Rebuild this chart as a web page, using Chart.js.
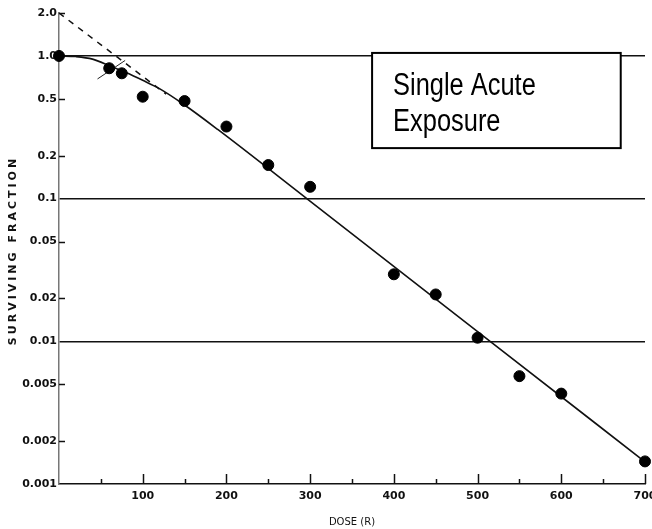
<!DOCTYPE html>
<html>
<head>
<meta charset="utf-8">
<script src="https://cdn.jsdelivr.net/npm/chart.js@4.4.0/dist/chart.umd.min.js"></script>
<style>
html,body{margin:0;padding:0;background:#fff;}
</style>
</head>
<body>
<canvas id="grafico" width="652" height="529"></canvas>
<script>
// punti misurati
var dosi = [0, 60, 75, 100, 150, 200, 250, 300, 400, 450, 500, 550, 600, 700];
var sopravvivenza = [1.0, 0.82, 0.756, 0.518, 0.483, 0.32, 0.172, 0.121, 0.0295, 0.0213, 0.0106, 0.0057, 0.0043, 0.00144];

// curva continua
var curvaDosi = [0, 20, 40, 61, 80, 100, 120, 150, 190, 296, 515, 700];
var curvaFrazione = [1.0, 0.99, 0.95, 0.85, 0.765, 0.675, 0.59, 0.453, 0.304, 0.1, 0.01, 0.00143];

// estrapolazione tratteggiata
var trattDosi = [0, 128];
var trattFrazione = [2.0, 0.54];

// piccolo segno vicino alla spalla
var segnoDosi = [46, 79];
var segnoFrazione = [0.69, 0.93];

var tickY = [2.0, 1.0, 0.5, 0.2, 0.1, 0.05, 0.02, 0.01, 0.005, 0.002, 0.001];
var etichetteY = ["2.0", "1.0", "0.5", "0.2", "0.1", "0.05", "0.02", "0.01", "0.005", "0.002", "0.001"];
var lineeOrizzontali = [1.0, 0.1, 0.01];
var tickX = [100, 200, 300, 400, 500, 600, 700];

// riquadro del testo (in unita' del grafico)
var riquadroX = [374, 671];
var riquadroY = [1.05, 0.226];
var testoRiquadro = ["Single Acute", "Exposure"];

function coppie(xs, ys)
{
  return xs.map(function(x, i) { return {x: x, y: ys[i]}; });
}

var decorazioni = {
  id: 'decorazioni',
  afterDraw: function(chart)
  {
    var ctx = chart.ctx, a = chart.chartArea;
    var sx = chart.scales.x, sy = chart.scales.y;
    ctx.save();
    ctx.strokeStyle = '#111';
    ctx.lineWidth = 1.5;
    // tacche asse y verso l'interno
    tickY.forEach(function(v) {
      if (lineeOrizzontali.indexOf(v) >= 0 || v === 0.001) return;
      var y = Math.round(sy.getPixelForValue(v)) + 0.5;
      ctx.beginPath();
      ctx.moveTo(a.left, y);
      ctx.lineTo(a.left + 6, y);
      ctx.stroke();
    });
    // tacche asse x verso l'alto
    for (var d = 50; d <= 700; d += 50)
    {
      var x = Math.round(sx.getPixelForValue(d)) + 0.5;
      var lung = (d % 100 === 0) ? 10 : 5;
      ctx.beginPath();
      ctx.moveTo(x, a.bottom);
      ctx.lineTo(x, a.bottom - lung);
      ctx.stroke();
    }
    // titolo asse y con spaziatura
    ctx.save();
    ctx.translate(13, (a.top + a.bottom) / 2 + 2);
    ctx.rotate(-Math.PI / 2);
    ctx.font = 'bold 11px "DejaVu Sans"';
    ctx.letterSpacing = '3px';
    ctx.fillStyle = '#111';
    ctx.textAlign = 'center';
    ctx.textBaseline = 'middle';
    ctx.fillText('SURVIVING FRACTION', 0, 0);
    ctx.restore();
    // riquadro
    var x0 = sx.getPixelForValue(riquadroX[0]), x1 = sx.getPixelForValue(riquadroX[1]);
    var y0 = sy.getPixelForValue(riquadroY[0]), y1 = sy.getPixelForValue(riquadroY[1]);
    ctx.fillStyle = '#fff';
    ctx.fillRect(x0, y0, x1 - x0, y1 - y0);
    ctx.lineWidth = 2;
    ctx.strokeStyle = '#000';
    ctx.strokeRect(x0, y0, x1 - x0, y1 - y0);
    ctx.fillStyle = '#000';
    ctx.font = '31px "Liberation Sans", Arial, sans-serif';
    ctx.textAlign = 'left';
    ctx.textBaseline = 'alphabetic';
    testoRiquadro.forEach(function(t, i) {
      ctx.save();
      ctx.translate(x0 + 21, y0 + 42.5 + i * 36);
      ctx.scale(0.82, 1);
      ctx.fillText(t, 0, 0);
      ctx.restore();
    });
    ctx.restore();
  }
};

new Chart(document.getElementById("grafico"),
{
  type: 'scatter',
  data:
  {
    datasets:
    [
      {
        data: coppie(dosi, sopravvivenza),
        backgroundColor: '#000',
        borderColor: '#000',
        pointRadius: 5.5,
        pointHoverRadius: 5.5,
        clip: false,
        order: 0
      },
      {
        type: 'line',
        data: coppie(curvaDosi, curvaFrazione),
        borderColor: '#111',
        borderWidth: 1.6,
        pointRadius: 0,
        cubicInterpolationMode: 'monotone',
        fill: false,
        clip: false,
        order: 1
      },
      {
        type: 'line',
        data: coppie(trattDosi, trattFrazione),
        borderColor: '#111',
        borderWidth: 1.5,
        borderDash: [6, 6],
        pointRadius: 0,
        fill: false,
        clip: false,
        order: 1
      },
      {
        type: 'line',
        data: coppie(segnoDosi, segnoFrazione),
        borderColor: '#222',
        borderWidth: 1,
        pointRadius: 0,
        fill: false,
        clip: false,
        order: 1
      }
    ]
  },
  options:
  {
    responsive: false,
    animation: false,
    devicePixelRatio: 1,
    layout: { padding: { top: 13, right: 7, bottom: 0, left: 0 } },
    plugins: { legend: { display: false }, tooltip: { enabled: false } },
    scales:
    {
      x:
      {
        type: 'linear',
        min: 0,
        max: 700,
        afterBuildTicks: function(s) { s.ticks = tickX.map(function(v) { return {value: v}; }); },
        afterFit: function(s) { s.paddingLeft = 0; s.paddingRight = 0; s.height = 45; },
        grid: { display: false, drawTicks: false },
        border: { display: true, color: '#111', width: 1.5 },
        ticks: { color: '#111', padding: 6, maxRotation: 0, autoSkip: false, font: { family: 'DejaVu Sans', size: 11, weight: 'bold' } },
        title: { display: true, text: 'DOSE (R)', color: '#111', padding: { top: 2, bottom: 1 }, font: { family: 'DejaVu Sans', size: 10 } }
      },
      y:
      {
        type: 'logarithmic',
        min: 0.001,
        max: 2.0,
        afterBuildTicks: function(s) { s.ticks = tickY.map(function(v) { return {value: v}; }); },
        afterFit: function(s) { s.width = 59; s.paddingTop = 0; s.paddingBottom = 0; },
        grid:
        {
          drawTicks: false,
          lineWidth: 1.5,
          color: function(c) { return (c.tick && lineeOrizzontali.indexOf(c.tick.value) >= 0) ? '#111' : 'rgba(0,0,0,0)'; }
        },
        border: { display: true, color: '#777', width: 1.5 },
        ticks:
        {
          color: '#111',
          padding: 2,
          autoSkip: false,
          font: { family: 'DejaVu Sans', size: 11, weight: 'bold' },
          callback: function(v) { var i = tickY.indexOf(v); return i >= 0 ? etichetteY[i] : ''; }
        }
      }
    }
  },
  plugins: [decorazioni]
});
</script>
</body>
</html>
